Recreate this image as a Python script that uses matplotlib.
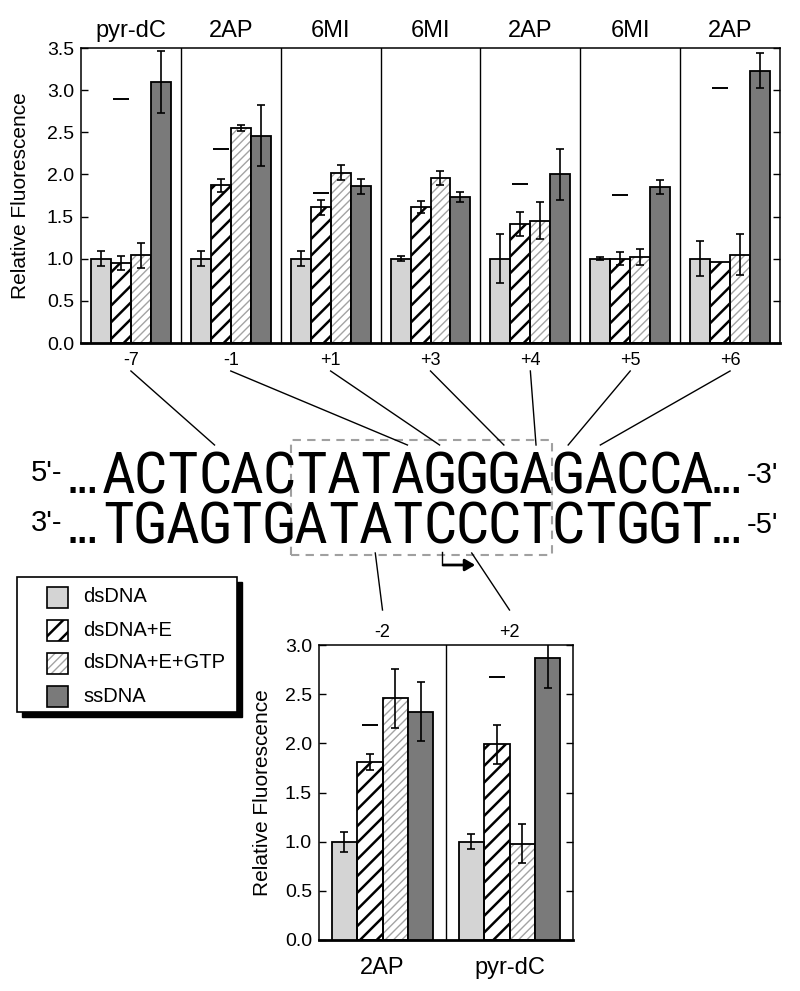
import numpy as np
import matplotlib
matplotlib.use('Agg')
import matplotlib.pyplot as plt
import matplotlib.transforms as mtransforms
from matplotlib.patches import Rectangle
from matplotlib.lines import Line2D

plt.rcParams['font.family'] = ['Liberation Sans', 'DejaVu Sans']

# ---- data -------------------------------------------------------------
conditions = ['dsDNA', 'dsDNA+E', 'dsDNA+E+GTP', 'ssDNA']

top_probes = ['pyr-dC', '2AP', '6MI', '6MI', '2AP', '6MI', '2AP']
top_positions = ['-7', '-1', '+1', '+3', '+4', '+5', '+6']
top_ds = [1.00, 1.00, 1.00, 1.00, 1.00, 1.00, 1.00]
top_ds_err = [0.09, 0.09, 0.09, 0.03, 0.29, 0.02, 0.21]
top_dsE = [0.95, 1.87, 1.61, 1.61, 1.41, 1.00, 0.96]
top_dsE_err = [0.08, 0.08, 0.09, 0.07, 0.14, 0.08, 0.0]
top_gtp = [1.04, 2.55, 2.02, 1.96, 1.45, 1.02, 1.05]
top_gtp_err = [0.15, 0.04, 0.09, 0.08, 0.22, 0.09, 0.24]
top_ss = [3.10, 2.46, 1.86, 1.73, 2.00, 1.85, 3.23]
top_ss_err = [0.37, 0.36, 0.09, 0.06, 0.30, 0.08, 0.21]
top_dash = [2.89, 2.30, 1.78, np.nan, 1.89, 1.76, 3.02]

bot_probes = ['2AP', 'pyr-dC']
bot_positions = ['-2', '+2']
bot_ds = [1.00, 1.00]
bot_ds_err = [0.10, 0.075]
bot_dsE = [1.81, 1.99]
bot_dsE_err = [0.08, 0.20]
bot_gtp = [2.46, 0.98]
bot_gtp_err = [0.30, 0.20]
bot_ss = [2.32, 2.87]
bot_ss_err = [0.30, 0.31]
bot_dash = [2.19, 2.67]

seq_top = 'ACTCACTATAGGGAGACCA'
seq_bot = 'TGAGTGATATCCCTCTGGT'

# ---- layout helpers (pixels of an 800x991 canvas) ----------------------
W, H = 800, 991
fig = plt.figure(figsize=(8, 9.91), dpi=100)


def fx(x):
    return x / W


def fy(y):
    return 1 - y / H


styles = [
    dict(face='#d4d4d4', hatch=None),
    dict(face='white', hatch='//', hc='black', hlw=1.8),
    dict(face='white', hatch='////', hc='#a3a3a3', hlw=1.0),
    dict(face='#7a7a7a', hatch=None),
]


def hatched_patch(p, st):
    if hasattr(p, 'set_hatch_linewidth'):
        p.set_hatch_linewidth(st['hlw'])


def draw_group(ax, x, h, st):
    if st['hatch']:
        with plt.rc_context({'hatch.linewidth': st['hlw']}):
            bars = ax.bar(x, h, 0.2, color=st['face'], edgecolor=st['hc'],
                          hatch=st['hatch'], linewidth=0, zorder=2)
        for p in bars:
            hatched_patch(p, st)
        ax.bar(x, h, 0.2, fill=False, edgecolor='black', linewidth=1.3, zorder=3)
    else:
        ax.bar(x, h, 0.2, color=st['face'], edgecolor='black', linewidth=1.3, zorder=3)


def panel_chart(ax, series, errs, dash, ymax):
    n = len(series[0])
    base = np.arange(n) + 0.5
    for j in range(4):
        x = base + (j - 1.5) * 0.2
        draw_group(ax, x, series[j], styles[j])
        e = np.array(errs[j])
        m = e > 0
        ax.errorbar(x[m], np.array(series[j])[m], yerr=e[m], fmt='none',
                    ecolor='black', elinewidth=1.2, capsize=3.2, capthick=1.2, zorder=4)
    ax.plot(base - 0.1, dash, ls='none', marker='_', ms=11, mew=1.4, color='black', zorder=4)
    for i in range(1, n):
        ax.axvline(i, color='black', lw=1, zorder=1)
    ax.set_xlim(0, n)
    ax.set_ylim(0, ymax)
    ax.set_xticks([])
    ax.set_yticks(np.arange(0, ymax + 0.01, 0.5))
    ax.yaxis.set_major_formatter(matplotlib.ticker.FormatStrFormatter('%.1f'))
    ax.tick_params(axis='y', direction='in', length=5, width=1, right=True,
                   labelsize=14, pad=5)
    for s in ax.spines.values():
        s.set_linewidth(1.1)
    ax.spines['bottom'].set_linewidth(2)
    ax.set_ylabel('Relative Fluorescence', fontsize=15)
    tr = mtransforms.blended_transform_factory(ax.transData, ax.transAxes)
    return base, tr


# top chart
ax1 = fig.add_axes([fx(81), fy(343), (780 - 81) / W, (343 - 48) / H])
base1, tr1 = panel_chart(ax1, [top_ds, top_dsE, top_gtp, top_ss],
                         [top_ds_err, top_dsE_err, top_gtp_err, top_ss_err],
                         top_dash, 3.5)
for x, p, q in zip(base1, top_probes, top_positions):
    ax1.text(x, 1.058, p, transform=tr1, ha='center', va='center', fontsize=17)
    ax1.text(x, -0.058, q, transform=tr1, ha='center', va='center', fontsize=13)
ax1.yaxis.set_label_coords(-0.073, 0.5)

# bottom chart
ax2 = fig.add_axes([fx(319), fy(940), (573 - 319) / W, (940 - 645) / H])
base2, tr2 = panel_chart(ax2, [bot_ds, bot_dsE, bot_gtp, bot_ss],
                         [bot_ds_err, bot_dsE_err, bot_gtp_err, bot_ss_err],
                         bot_dash, 3.0)
for x, p, q in zip(base2, bot_probes, bot_positions):
    ax2.text(x, -0.095, p, transform=tr2, ha='center', va='center', fontsize=17)
    ax2.text(x, 1.044, q, transform=tr2, ha='center', va='center', fontsize=13)
ax2.yaxis.set_label_coords(-0.185, 0.5)

# ---- DNA sequence ------------------------------------------------------
SEQ_X0, SEQ_STEP = 102, 32.15
TOP_BASE, BOT_BASE = 493, 543
seq_font = ['Noto Sans Condensed', 'Roboto Condensed', 'Roboto', 'DejaVu Sans']


def letter_x(k):
    return SEQ_X0 + (k + 0.5) * SEQ_STEP


for k, (a, b) in enumerate(zip(seq_top, seq_bot)):
    fig.text(fx(letter_x(k)), fy(TOP_BASE), a, ha='center', va='baseline',
             fontsize=42, family=seq_font)
    fig.text(fx(letter_x(k)), fy(BOT_BASE), b, ha='center', va='baseline',
             fontsize=42, family=seq_font)

fig.text(fx(31), fy(481), "5'-", ha='left', va='baseline', fontsize=21)
fig.text(fx(31), fy(531), "3'-", ha='left', va='baseline', fontsize=21)
fig.text(fx(747), fy(483), "-3'", ha='left', va='baseline', fontsize=21)
fig.text(fx(747), fy(533), "-5'", ha='left', va='baseline', fontsize=21)
for y in (TOP_BASE, BOT_BASE):
    fig.text(fx(68), fy(y), '...', ha='left', va='baseline', fontsize=26, fontweight='bold')
    fig.text(fx(712), fy(y), '...', ha='left', va='baseline', fontsize=26, fontweight='bold')

# dashed promoter box
fig.add_artist(Rectangle((fx(291), fy(555)), (552 - 291) / W, (555 - 440) / H,
                         transform=fig.transFigure, fill=False, ec='#a0a0a0',
                         lw=1.5, ls=(0, (4, 3))))


def pos_index(p):
    v = int(p)
    return 10 + v - 1 if v > 0 else 10 + v


def fig_line(x0, y0, x1, y1):
    fig.add_artist(Line2D([fx(x0), fx(x1)], [fy(y0), fy(y1)],
                          transform=fig.transFigure, color='black', lw=1))


for i, p in enumerate(top_positions):
    fig_line(81 + (i + 0.5) * (699 / 7), 371, letter_x(pos_index(p)), 445)
for i, p in enumerate(bot_positions):
    fig_line(letter_x(pos_index(p)), 553, 319 + (i + 0.5) * 127, 610)

# transcription start arrow
fig_line(letter_x(10) + 2, 552, letter_x(10) + 2, 565)
fig.add_artist(matplotlib.patches.FancyArrowPatch(
    (fx(letter_x(10) + 1), fy(565)), (fx(478), fy(565)), transform=fig.transFigure,
    arrowstyle='-|>,head_length=6,head_width=3.5', color='black', lw=2))

# ---- legend --------------------------------------------------------------
fig.add_artist(Rectangle((fx(22), fy(717)), 220 / W, 135 / H,
                         transform=fig.transFigure, fc='black', ec='black'))
fig.add_artist(Rectangle((fx(17), fy(712)), 220 / W, 135 / H,
                         transform=fig.transFigure, fc='white', ec='black', lw=1.2))
for name, st, yc in zip(conditions, styles, [597, 630, 663, 696]):
    kw = dict(transform=fig.transFigure)
    if st['hatch']:
        with plt.rc_context({'hatch.linewidth': st['hlw']}):
            r = Rectangle((fx(47), fy(yc + 10.5)), 21 / W, 21 / H, fc=st['face'],
                          ec=st['hc'], hatch=st['hatch'], lw=0, **kw)
        hatched_patch(r, st)
        fig.add_artist(r)
        fig.add_artist(Rectangle((fx(47), fy(yc + 10.5)), 21 / W, 21 / H,
                                 fill=False, ec='black', lw=1.2, **kw))
    else:
        fig.add_artist(Rectangle((fx(47), fy(yc + 10.5)), 21 / W, 21 / H,
                                 fc=st['face'], ec='black', lw=1.2, **kw))
    fig.text(fx(83), fy(yc), name, ha='left', va='center', fontsize=14.5)

fig.savefig('out.png', dpi=100)
